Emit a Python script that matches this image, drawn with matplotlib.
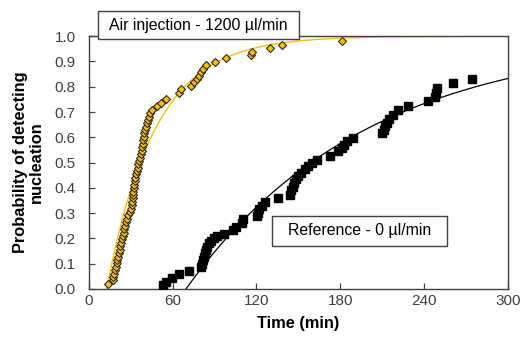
import numpy as np
import matplotlib
matplotlib.use('Agg')
import matplotlib.pyplot as plt
from matplotlib.patches import Rectangle

plt.rcParams['font.family'] = ['Liberation Sans', 'DejaVu Sans']

# Air injection - 1200 ul/min (time in min, cumulative probability)
air_time = [13.8, 17.0, 17.6, 18.2, 18.8, 19.3, 19.9, 20.4, 21.0, 21.5,
            22.1, 22.6, 23.2, 23.8, 24.3, 24.9, 25.4, 26.0, 26.6, 27.3,
            28.1, 29.6, 30.2, 30.6, 31.0, 31.3, 31.6, 31.9, 32.2, 32.5,
            32.9, 33.3, 33.8, 34.3, 34.9, 35.5, 36.1, 36.8, 37.4, 37.8,
            38.2, 38.5, 38.8, 39.2, 39.7, 40.4, 41.2, 41.9, 42.4, 43.0,
            44.0, 45.5, 48.5, 51.5, 55.5, 64.8, 65.6, 73.0, 75.5, 77.3,
            78.8, 80.3, 81.8, 83.5, 90.3, 97.9, 115.8, 117.0, 130.0, 138.0,
            181.0]
air_prob = [0.020, 0.034, 0.047, 0.061, 0.074, 0.088, 0.101, 0.115, 0.128, 0.142,
            0.155, 0.169, 0.182, 0.196, 0.209, 0.223, 0.236, 0.250, 0.264, 0.277,
            0.291, 0.304, 0.318, 0.331, 0.345, 0.358, 0.372, 0.385, 0.399, 0.412,
            0.426, 0.439, 0.453, 0.466, 0.480, 0.493, 0.507, 0.520, 0.534, 0.547,
            0.561, 0.574, 0.588, 0.601, 0.615, 0.628, 0.642, 0.655, 0.669, 0.682,
            0.696, 0.709, 0.723, 0.736, 0.750, 0.777, 0.790, 0.804, 0.817, 0.831,
            0.844, 0.858, 0.871, 0.885, 0.898, 0.912, 0.925, 0.939, 0.953, 0.966,
            0.980]

# Reference - 0 ul/min
ref_time = [52.8, 55.2, 59.5, 64.5, 72.0, 80.5, 81.2, 81.6, 82.3, 83.0,
            83.8, 84.8, 86.0, 87.5, 89.5, 92.0, 96.5, 103.5, 105.5, 109.5,
            110.5, 120.5, 121.3, 122.0, 124.0, 126.0, 135.6, 144.0, 145.0, 146.0,
            147.0, 148.5, 150.0, 152.0, 154.5, 157.0, 160.0, 163.0, 172.7, 178.6,
            181.0, 182.5, 185.0, 189.4, 209.7, 211.0, 212.3, 213.5, 214.8, 218.0,
            221.6, 228.8, 243.1, 248.0, 248.8, 249.3, 261.0, 274.0]
ref_prob = [0.016, 0.029, 0.044, 0.058, 0.072, 0.086, 0.100, 0.113, 0.127, 0.141,
            0.155, 0.168, 0.180, 0.190, 0.200, 0.208, 0.216, 0.232, 0.245, 0.262,
            0.275, 0.287, 0.302, 0.316, 0.330, 0.343, 0.360, 0.373, 0.392, 0.405,
            0.420, 0.434, 0.447, 0.460, 0.474, 0.488, 0.500, 0.512, 0.527, 0.545,
            0.558, 0.571, 0.584, 0.598, 0.618, 0.630, 0.644, 0.657, 0.671, 0.690,
            0.708, 0.723, 0.743, 0.760, 0.775, 0.796, 0.816, 0.829]

# exponential fits  p = 1 - exp(-(t - t0)/tau)
air_fit = {'t0': 12.7, 'tau': 34.7}
ref_fit = {'t0': 69.5, 'tau': 129.0}

GOLD = '#FFC000'
GREY = '#404040'


def fit_curve(params):
    t = np.linspace(params['t0'], 300, 400)
    return t, 1 - np.exp(-(t - params['t0']) / params['tau'])


def label_box(fig, x0, y0, w, h, text):
    # white box with thin border, text centred in it
    fig.patches.append(Rectangle((x0, y0), w, h, transform=fig.transFigure,
                                 fc='white', ec=GREY, lw=1.0, zorder=10))
    fig.text(x0 + w / 2, y0 + h / 2, text, fontsize=11.4, ha='center',
             va='center', color='black', zorder=11)


fig = plt.figure(figsize=(5.23, 3.41), dpi=100)
ax = fig.add_axes([0.170, 0.1525, 0.801, 0.7415])

t, p = fit_curve(air_fit)
ax.plot(t, p, color=GOLD, lw=1.0, zorder=2)
t, p = fit_curve(ref_fit)
ax.plot(t, p, color='black', lw=0.9, zorder=2)

ax.plot(ref_time, ref_prob, 's', ms=5.7, color='black', mec='black', zorder=3)
ax.plot(air_time, air_prob, 'D', ms=4.4, mfc=GOLD, mec='#262626', mew=0.8, zorder=4)

ax.set_xlim(0, 300)
ax.set_ylim(0, 1.0)
ax.set_xticks(np.arange(0, 301, 60))
ax.set_yticks(np.arange(0, 1.01, 0.1))
ax.yaxis.set_major_formatter(matplotlib.ticker.FormatStrFormatter('%.1f'))
ax.tick_params(direction='in', length=4, width=0.9, colors=GREY,
               labelsize=11)
ax.tick_params(axis='y', pad=9.5)
ax.tick_params(axis='x', pad=3.5)
for s in ax.spines.values():
    s.set_color(GREY)
    s.set_linewidth(1.0)

ax.set_xlabel('Time (min)', fontsize=11.8, fontweight='bold', color='black')
ax.xaxis.set_label_coords(0.5, -0.105)
ax.set_ylabel('Probability of detecting\nnucleation', fontsize=11.8,
              fontweight='bold', color='black', linespacing=1.05)
ax.yaxis.set_label_coords(-0.107, 0.5)

label_box(fig, 0.1874, 0.8856, 0.3843, 0.0821, 'Air injection - 1200 µl/min')
label_box(fig, 0.5200, 0.2786, 0.3346, 0.0880, 'Reference - 0 µl/min')

fig.savefig('out.png', dpi=100)
